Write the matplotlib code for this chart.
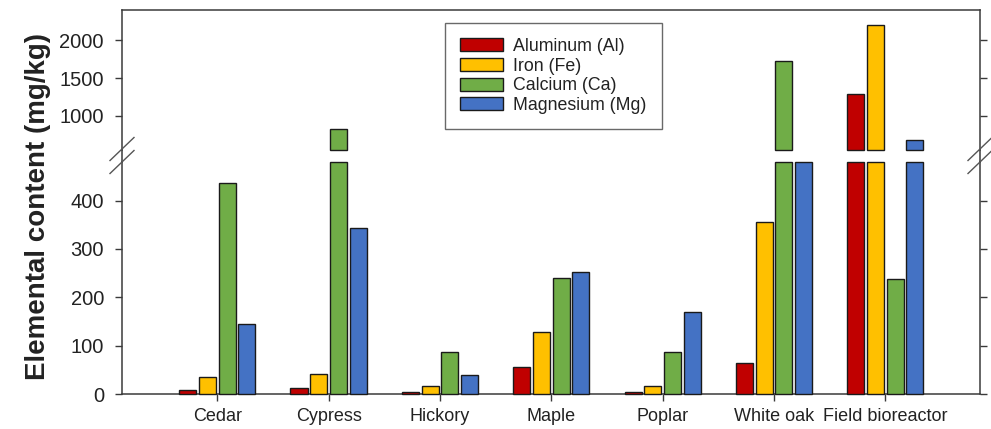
import matplotlib
matplotlib.use("Agg")
import matplotlib.pyplot as plt
from matplotlib.lines import Line2D
import numpy as np

plt.rcParams['font.family'] = ['Liberation Sans', 'DejaVu Sans']

# Elemental content (mg/kg) for each wood-chip source
categories = ["Cedar", "Cypress", "Hickory", "Maple", "Poplar", "White oak", "Field bioreactor"]
aluminum = [8, 12, 5, 55, 5, 64, 1285]
iron = [36, 41, 17, 128, 17, 355, 2197]
calcium = [437, 825, 86, 239, 86, 1728, 237]
magnesium = [144, 344, 40, 253, 169, 510, 684]
series_labels = ["Aluminum (Al)", "Iron (Fe)", "Calcium (Ca)", "Magnesium (Mg)"]
colors = ["#C00000", "#FFC000", "#70AD47", "#4472C4"]

series = [aluminum, iron, calcium, magnesium]

W, H = 991, 429
fig = plt.figure(figsize=(W / 100, H / 100), dpi=100)


def fx(px):
    return px / W


def fy(py):
    return 1 - py / H


L, R = 122, 980
ax_top = fig.add_axes([fx(L), fy(150), fx(R) - fx(L), fy(10) - fy(150)])
ax_bot = fig.add_axes([fx(L), fy(394), fx(R) - fx(L), fy(162) - fy(394)])

limits = {ax_top: (550, 2400), ax_bot: (0, 480)}
x = np.arange(len(categories))
pitch = 0.177
width = 0.153
offsets = (np.arange(4) - 1.5) * pitch
spine_col = "#3a3a3a"
text_col = "#222222"

handles = []
for ax, (lo, hi) in limits.items():
    for i, (vals, col) in enumerate(zip(series, colors)):
        v = np.asarray(vals, float)
        shown = v > lo
        heights = np.minimum(v, hi) - lo
        bars = ax.bar(x[shown] + offsets[i], heights[shown], width, bottom=lo,
                      color=col, edgecolor="#1a1a1a", linewidth=1.0, clip_on=False,
                      label=series_labels[i], zorder=3)
        if ax is ax_bot:
            handles.append(bars)
    ax.set_ylim(lo, hi)
    ax.set_xlim(-0.855, 6.85)
    for s in ax.spines.values():
        s.set_color(spine_col)
        s.set_linewidth(1.1)
    ax.tick_params(axis="y", direction="out", length=5, width=1, color=spine_col,
                   left=True, right=True, labelright=False, labelsize=14.5,
                   labelcolor=text_col, pad=8)

ax_top.spines["bottom"].set_visible(False)
ax_top.set_xticks([])
ax_top.set_yticks([1000, 1500, 2000])
ax_bot.spines["top"].set_visible(False)
ax_bot.set_yticks([0, 100, 200, 300, 400])
ax_bot.set_xticks(x)
ax_bot.set_xticklabels(categories)
ax_bot.tick_params(axis="x", direction="out", length=5, width=1, color=spine_col,
                   labelsize=13, labelcolor=text_col, pad=5)

# continue the side spines across the axis break
for px in (L, R):
    fig.add_artist(Line2D([fx(px), fx(px)], [fy(150), fy(162)],
                          color=spine_col, linewidth=1.1, transform=fig.transFigure))
    for cy in (149, 162):
        fig.add_artist(Line2D([fx(px - 12), fx(px + 12)], [fy(cy + 11.5), fy(cy - 11.5)],
                              color="#555555", linewidth=1.0, transform=fig.transFigure))

fig.text(fx(38), fy(206), "Elemental content (mg/kg)", rotation=90, ha="center",
         va="center", fontsize=20, fontweight="bold", color=text_col)

leg = fig.legend(handles, series_labels, loc="upper left",
                 bbox_to_anchor=(fx(445), fy(23)), frameon=True, fancybox=False,
                 edgecolor="#444444", fontsize=12.8, borderpad=0.85, labelspacing=0.15,
                 handlelength=2.4, handleheight=0.75, handletextpad=0.6,
                 borderaxespad=0)
leg.get_frame().set_linewidth(1.0)
for t in leg.get_texts():
    t.set_color(text_col)

fig.savefig("out.png", dpi=100)
